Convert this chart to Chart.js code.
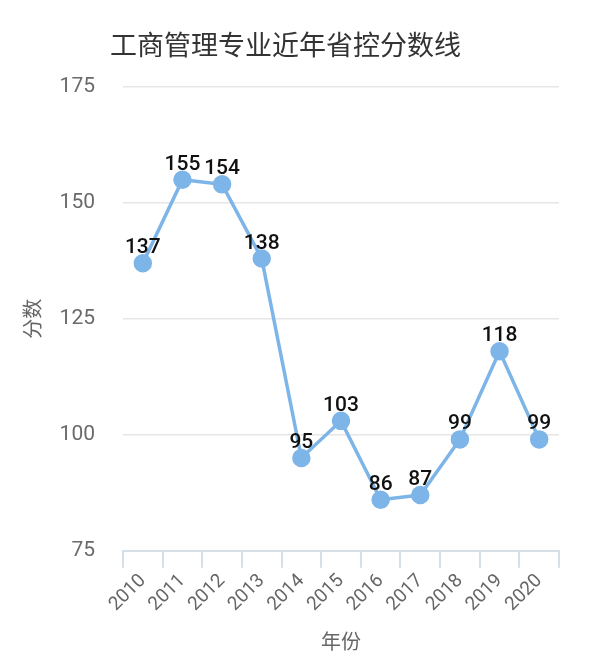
<!DOCTYPE html>
<html>
<head>
<meta charset="utf-8">
<script src="https://cdn.jsdelivr.net/npm/chart.js@4/dist/chart.umd.min.js"></script>
<style>
  html, body { margin: 0; padding: 0; background: #fff; }
  #wrap { width: 608px; height: 663px; position: relative; }
</style>
</head>
<body>
<div id="wrap"><canvas id="chart"></canvas></div>
<script>
// data
const years = ['2010', '2011', '2012', '2013', '2014', '2015', '2016', '2017', '2018', '2019', '2020'];
const scores = [137, 155, 154, 138, 95, 103, 86, 87, 99, 118, 99];
const yTicks = [75, 100, 125, 150, 175];

const chartTitle = '工商管理专业近年省控分数线';
const FONT = "Roboto, 'Noto Sans CJK SC', sans-serif";

// title drawn left of centre, like the original
const titlePlugin = {
    id: 'leftTitle',
    afterDraw(chart) {
        const ctx = chart.ctx;
        ctx.save();
        ctx.font = "27px 'Noto Sans CJK SC', sans-serif";
        ctx.fillStyle = '#333';
        ctx.textAlign = 'left';
        ctx.textBaseline = 'middle';
        ctx.fillText(chartTitle, 110, 45);
        ctx.restore();
    }
};

// value above each point
const valueLabels = {
    id: 'valueLabels',
    afterDatasetsDraw(chart) {
        const ctx = chart.ctx;
        const meta = chart.getDatasetMeta(0);
        ctx.save();
        ctx.font = '500 21px ' + FONT;
        ctx.fillStyle = '#111';
        ctx.textAlign = 'center';
        ctx.textBaseline = 'alphabetic';
        meta.data.forEach((pt, i) => {
            ctx.fillText(String(scores[i]), pt.x, pt.y - 10);
        });
        ctx.restore();
    }
};

const ctx = document.getElementById('chart').getContext('2d');
new Chart(ctx, {
    type: 'line',
    data: {
        labels: years,
        datasets: [{
            data: scores,
            borderColor: '#7db5e8',
            backgroundColor: '#7db5e8',
            pointBackgroundColor: '#7db5e8',
            pointBorderColor: '#7db5e8',
            pointRadius: 7.5,
            borderWidth: 3.5,
            tension: 0,
            fill: false,
        }],
    },
    options: {
        responsive: true,
        maintainAspectRatio: false,
        animation: false,
        layout: {
            padding: { top: 87, right: 49, bottom: 7, left: 0 },
        },
        plugins: {
            legend: { display: false },
            tooltip: { enabled: false },
            title: { display: false },
        },
        scales: {
            x: {
                offset: true,
                // rotated labels may hang into the y axis space
                afterFit(axis) {
                    axis.paddingLeft = 0;
                    axis.paddingRight = 0;
                },
                grid: {
                    offset: true,
                    drawOnChartArea: false,
                    drawTicks: true,
                    tickLength: 17,
                    color: '#d6dee6',
                    lineWidth: 2,
                },
                border: { color: '#d6dee6', width: 2 },
                ticks: {
                    color: '#666',
                    font: { size: 19, family: FONT },
                    maxRotation: 45,
                    minRotation: 45,
                    padding: 2,
                },
                title: {
                    display: true,
                    text: '年份',
                    color: '#666',
                    font: { size: 20, family: FONT },
                    padding: { top: 14, bottom: 0 },
                },
            },
            y: {
                min: 75,
                max: 175,
                afterBuildTicks(axis) {
                    axis.ticks = yTicks.map(v => ({ value: v }));
                },
                afterFit(axis) {
                    axis.width = 123;
                },
                grid: {
                    color: '#e6e6e6',
                    lineWidth: 1.5,
                    drawTicks: false,
                },
                border: { display: false },
                ticks: {
                    color: '#6a6a6a',
                    font: { size: 21, family: FONT },
                    padding: 28,
                },
                title: {
                    display: true,
                    text: '分数',
                    color: '#666',
                    font: { size: 20, family: FONT },
                    padding: { top: 23, bottom: 15 },
                },
            },
        },
    },
    plugins: [titlePlugin, valueLabels],
});
</script>
</body>
</html>
